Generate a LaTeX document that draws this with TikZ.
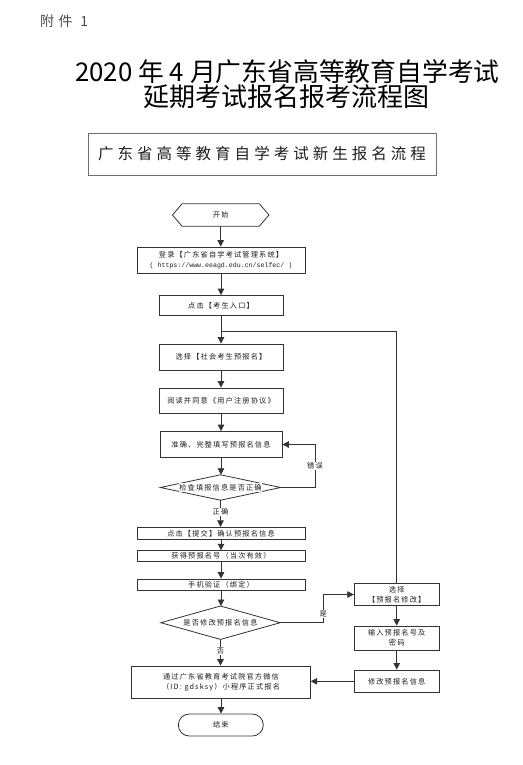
\documentclass[tikz,border=0pt]{standalone}
\usepackage{fontspec}
\setmainfont{Noto Sans CJK SC}
\newfontfamily\cjkS[LetterSpace=16]{Noto Sans CJK SC}
\newfontfamily\cjkH[LetterSpace=26]{Noto Sans CJK SC}
\newfontfamily\cjkA[LetterSpace=32]{Noto Sans CJK SC}
\newfontfamily\monoS{Liberation Mono}
\usetikzlibrary{arrows.meta}
\definecolor{linec}{HTML}{333333}
\definecolor{txt}{HTML}{1E1E1E}
\definecolor{hdr}{HTML}{6E6E6E}
\begin{document}
\begin{tikzpicture}[x=1pt,y=-1pt,
  box/.style={draw=linec, line width=0.8pt, inner sep=0pt, align=center, text=txt, font=\cjkS\fontsize{7.2}{10}\selectfont},
  ln/.style={draw=linec, line width=0.8pt},
  arr/.style={draw=linec, line width=0.8pt, -{Triangle[length=6.5pt,width=6.5pt]}},
  lbl/.style={fill=white, inner sep=0.8pt, text=txt, font=\cjkS\fontsize{7.2}{10}\selectfont},
  shapebox/.style={inner sep=0pt, draw=none}]
\useasboundingbox (0,0) rectangle (522,765);
\fill[white] (0,0) rectangle (522,765);

% heading
\node[font=\cjkA\fontsize{14}{16}\selectfont, text=black!70, anchor=west, inner sep=0] (att) at (40,21) {附件 1};
\node[font=\fontsize{25.8}{28}\selectfont, inner sep=0] (t1) at (287.5,72) {2020 年 4 月广东省高等教育自学考试};
\node[font=\fontsize{26}{28}\selectfont, inner sep=0] (t2) at (286.5,97) {延期考试报名报考流程图};
\node[draw=hdr, line width=1pt, minimum width=348, minimum height=42, inner sep=0, font=\cjkH\fontsize{15.5}{17}\selectfont, text=txt] (hd) at (262,154) {广东省高等教育自学考试新生报名流程};

% start hexagon
\node[shapebox, minimum width=96, minimum height=22] (start) at (220.7,215) {};
\draw[ln] (start.west) -- ([xshift=9.5]start.north west) -- ([xshift=-9.5]start.north east) -- (start.east) -- ([xshift=-9.5]start.south east) -- ([xshift=9.5]start.south west) -- cycle;
\node[lbl, fill=none] (startt) at (start) {开始};

% main column
\node[box, minimum width=168, minimum height=26] (login) at (221,260) {登录【广东省自学考试管理系统】\\{\monoS\fontsize{6.6}{10}\selectfont ( https://www.eeagd.edu.cn/selfec/ )}};
\node[box, minimum width=124, minimum height=20] (entry) at (221,305.5) {点击【考生入口】};
\node[box, minimum width=124, minimum height=26] (social) at (221,357) {选择【社会考生预报名】};
\node[box, minimum width=124, minimum height=25] (read) at (221,400.5) {阅读并同意《用户注册协议》};
\node[box, minimum width=122, minimum height=26] (fill) at (221,444.5) {准确、完整填写预报名信息};

\node[shapebox, minimum width=120, minimum height=25] (chk) at (220.5,487.5) {};
\draw[ln] (chk.west) -- (chk.north) -- (chk.east) -- (chk.south) -- cycle;
\node[lbl] (chkt) at (chk) {检查填报信息是否正确};

\node[box, minimum width=168, minimum height=12] (submit) at (221,533.3) {点击【提交】确认预报名信息};
\node[box, minimum width=168, minimum height=11] (getnum) at (221,556.2) {获得预报名号（当次有效）};
\node[box, minimum width=168, minimum height=11] (phone) at (221,584.5) {手机验证（绑定）};

\node[shapebox, minimum width=119, minimum height=33] (mod) at (220.5,622.7) {};
\draw[ln] (mod.west) -- (mod.north) -- (mod.east) -- (mod.south) -- cycle;
\node[lbl] (modt) at (mod) {是否修改预报名信息};

\node[box, minimum width=178.6, minimum height=32.3] (final) at (221,682.2) {通过广东省教育考试院官方微信\\（ID: gdsksy）小程序正式报名};
\node[box, rounded corners=11pt, minimum width=85, minimum height=22] (end) at (220.8,725) {结束};

% right column
\node[box, minimum width=85, minimum height=22.5] (sel) at (396.7,594.5) {选择\\【预报名修改】};
\node[box, minimum width=85, minimum height=24] (input) at (396.7,638) {输入预报名号及\\密码};
\node[box, minimum width=85, minimum height=22.7] (modinfo) at (396.7,681.3) {修改预报名信息};

% connectors
\draw[arr] (start.south) -- (start.south |- login.north);
\draw[arr] (login.south) -- (login.south |- entry.north);
\draw[arr] (entry.south) -- (entry.south |- social.north);
\coordinate (br) at (entry.south |- 0,331);
\draw[ln] (br) -| (sel.north);
\draw[arr] (social.south) -- (social.south |- read.north);
\draw[arr] (read.south) -- (read.south |- fill.north);
\draw[arr] (fill.south) -- (fill.south |- chk.north);
\draw[arr] (chk.east) -- ++(35,0) |- (fill.east);
\node[lbl] (err) at (315,466) {错误};
\draw[arr] (chk.south) -- (chk.south |- submit.north);
\node[lbl] (ok) at (220.5,511.7) {正确};
\draw[arr] (submit.south) -- (submit.south |- getnum.north);
\draw[arr] (getnum.south) -- (getnum.south |- phone.north);
\draw[arr] (phone.south) -- (phone.south |- mod.north);
\draw[arr] (mod.east) -- ++(43.3,0) |- (sel.west);
\node[lbl] (yes) at (323.3,614) {是};
\draw[arr] (mod.south) -- (mod.south |- final.north);
\node[lbl] (no) at (220.5,651) {否};
\draw[arr] (sel.south) -- (sel.south |- input.north);
\draw[arr] (input.south) -- (input.south |- modinfo.north);
\draw[arr] (modinfo.west) -- (modinfo.west -| final.east);
\draw[arr] (final.south) -- (final.south |- end.north);
\end{tikzpicture}
\end{document}
